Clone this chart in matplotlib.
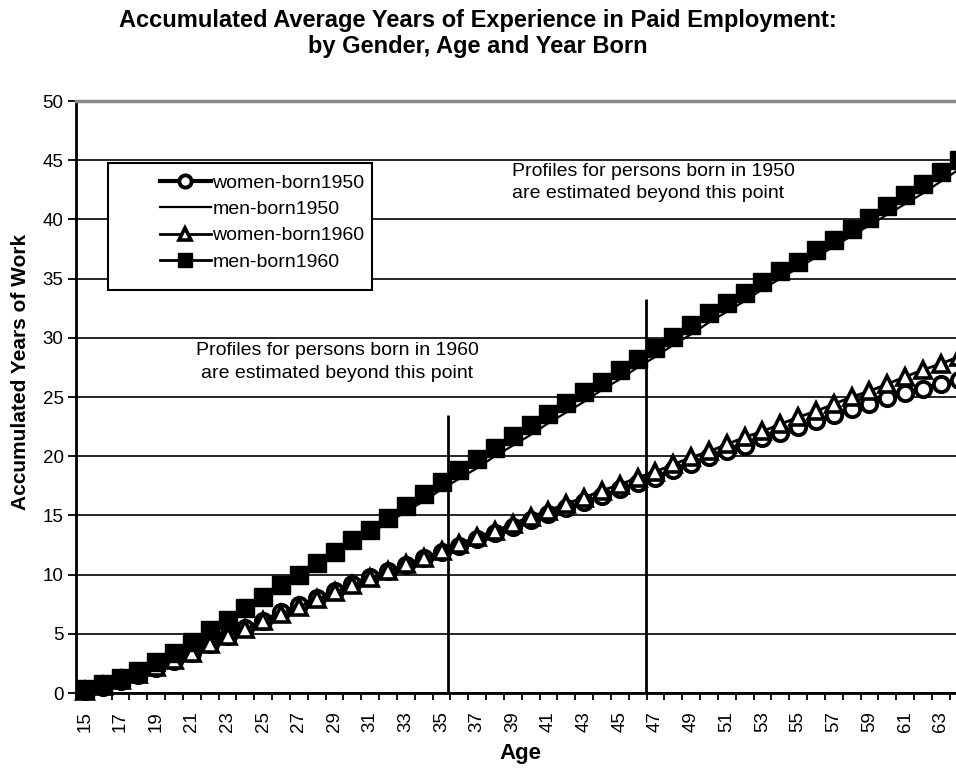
import matplotlib
matplotlib.use('Agg')
import matplotlib.pyplot as plt
from matplotlib.patches import Rectangle

plt.rcParams['font.family'] = ['Liberation Sans', 'DejaVu Sans']

# ---------------- data ----------------
ages = list(range(15, 65))

women_1950 = [0.2, 0.5, 1.0, 1.5, 2.1, 2.7, 3.4, 4.1, 4.8, 5.5,
              6.1, 6.8, 7.4, 8.0, 8.6, 9.2, 9.8, 10.3, 10.8, 11.4,
              11.9, 12.4, 13.0, 13.5, 14.0, 14.6, 15.1, 15.6, 16.1, 16.6,
              17.2, 17.7, 18.2, 18.8, 19.3, 19.9, 20.4, 20.9, 21.5, 22.0,
              22.5, 23.0, 23.5, 24.0, 24.4, 24.9, 25.3, 25.7, 26.1, 26.4]

men_1950 = [0.3, 0.8, 1.3, 1.9, 2.6, 3.4, 4.3, 5.2, 6.1, 7.1,
            8.0, 9.0, 9.9, 10.8, 11.7, 12.6, 13.5, 14.4, 15.3, 16.2,
            17.2, 18.1, 19.0, 20.0, 20.9, 21.8, 22.8, 23.7, 24.6, 25.6,
            26.5, 27.5, 28.4, 29.4, 30.3, 31.3, 32.2, 33.1, 34.1, 35.0,
            35.9, 36.8, 37.7, 38.6, 39.5, 40.4, 41.3, 42.2, 43.2, 44.2]

women_1960 = [0.2, 0.6, 1.1, 1.6, 2.2, 2.8, 3.4, 4.1, 4.8, 5.4,
              6.1, 6.7, 7.3, 7.9, 8.5, 9.1, 9.7, 10.3, 10.9, 11.4,
              12.0, 12.6, 13.2, 13.7, 14.3, 14.9, 15.4, 16.0, 16.5, 17.1,
              17.6, 18.2, 18.7, 19.3, 19.9, 20.4, 21.0, 21.6, 22.1, 22.7,
              23.3, 23.8, 24.4, 25.0, 25.5, 26.1, 26.7, 27.3, 27.8, 28.4]

men_1960 = [0.3, 0.8, 1.3, 1.9, 2.6, 3.4, 4.3, 5.3, 6.2, 7.2,
            8.1, 9.1, 10.0, 11.0, 11.9, 12.9, 13.8, 14.8, 15.8, 16.8,
            17.8, 18.8, 19.8, 20.7, 21.7, 22.6, 23.6, 24.5, 25.4, 26.3,
            27.3, 28.2, 29.1, 30.1, 31.1, 32.1, 32.9, 33.8, 34.7, 35.6,
            36.4, 37.4, 38.3, 39.2, 40.1, 41.1, 42.1, 43.0, 44.0, 45.0]

series_labels = ['women-born1950', 'men-born1950', 'women-born1960', 'men-born1960']
x_tick_labels = ['15', '17', '19', '21', '23', '25', '27', '29', '31', '33', '35',
                 '37', '39', '41', '43', '45', '47', '49', '51', '53', '55', '57',
                 '59', '61', '63']
y_ticks = [0, 5, 10, 15, 20, 25, 30, 35, 40, 45, 50]

# estimation cut-off markers (age, height)
cutoff_ages = [35.35, 46.45]
cutoff_tops = [23.5, 33.3]

title_lines = ['Accumulated Average Years of Experience in Paid Employment:',
               'by Gender, Age and Year Born']
note_1950 = 'Profiles for persons born in 1950\nare estimated beyond this point'
note_1960 = 'Profiles for persons born in 1960\nare estimated beyond this point'

# ---------------- figure ----------------
W, H = 956, 768
fig = plt.figure(figsize=(W / 100, H / 100), dpi=100)
fig.patch.set_facecolor('white')

ax_l, ax_r, ax_t, ax_b = 76, 967.5, 101, 693
ax = fig.add_axes([ax_l / W, (H - ax_b) / H, (ax_r - ax_l) / W, (ax_b - ax_t) / H])

ax.plot(ages, women_1950, color='black', lw=3.0, marker='o', ms=11,
        mfc='white', mec='black', mew=2.8, label=series_labels[0],
        zorder=3, clip_on=False)
ax.plot(ages, men_1950, color='black', lw=1.6, label=series_labels[1],
        zorder=3, clip_on=False)
ax.plot(ages, women_1960, color='black', lw=2.0, marker='^', ms=11.5,
        mfc='white', mec='black', mew=2.6, label=series_labels[2],
        zorder=3, clip_on=False)
ax.plot(ages, men_1960, color='black', lw=2.0, marker='s', ms=13,
        mfc='black', mec='black', label=series_labels[3],
        zorder=3, clip_on=False)

ax.vlines(cutoff_ages, 0, cutoff_tops, color='black', lw=2.0, zorder=4)

# axes styling
ax.set_xlim(ages[0] - 0.5, ages[-1] + 0.5)
ax.set_ylim(0, 50)
ax.set_yticks(y_ticks)
ax.set_xticks([int(t) for t in x_tick_labels])
ax.set_xticklabels(x_tick_labels)
ax.set_xticks([a - 0.5 for a in ages] + [ages[-1] + 0.5], minor=True)

ax.yaxis.grid(True, color='black', lw=1.2)
ax.set_axisbelow(True)

ax.tick_params(axis='y', which='major', direction='out', length=6, width=1.3,
               labelsize=13.5, pad=3)
ax.tick_params(axis='x', which='major', length=0, pad=13, labelsize=13.5,
               labelrotation=90)
ax.tick_params(axis='x', which='minor', direction='out', length=5, width=1.3)

for s in ['left', 'bottom']:
    ax.spines[s].set_linewidth(2)
    ax.spines[s].set_color('black')
ax.spines['top'].set_color('#8a8a8a')
ax.spines['top'].set_linewidth(2.5)
ax.spines['right'].set_visible(False)

# legend box
def ax_frac(px, py):
    return ((px - ax_l) / (ax_r - ax_l), (ax_b - py) / (ax_b - ax_t))

bx0, by0 = ax_frac(108, 290)
bx1, by1 = ax_frac(372, 163)
ax.add_patch(Rectangle((bx0, by0), bx1 - bx0, by1 - by0, transform=ax.transAxes,
                       facecolor='white', edgecolor='black', lw=1.5, zorder=5,
                       clip_on=False))
lx, ly = ax_frac(160, 222.5)
leg = ax.legend(loc='center left', bbox_to_anchor=(lx, ly), frameon=False,
                fontsize=14, handlelength=2.6, handletextpad=0.1,
                labelspacing=0.44, borderpad=0, borderaxespad=0,
                markerscale=0.8)
leg.set_zorder(6)

# notes
fig.text(512 / W, 1 - 182.5 / H, note_1950, ha='left', va='center',
         fontsize=14, linespacing=1.42)
fig.text(337 / W, 1 - 362 / H, note_1960, ha='center', va='center',
         fontsize=14, linespacing=1.42)

# titles and labels
fig.text(478 / W, 1 - 20 / H, title_lines[0], ha='center', va='center',
         fontsize=17, fontweight='bold')
fig.text(478 / W, 1 - 47 / H, title_lines[1], ha='center', va='center',
         fontsize=17, fontweight='bold')
fig.text(21 / W, 1 - 372 / H, 'Accumulated Years of Work', rotation=90,
         ha='center', va='center', fontsize=15, fontweight='bold')
fig.text(520 / W, 1 - 754 / H, 'Age', ha='center', va='center',
         fontsize=16, fontweight='bold')

fig.savefig('out.png', dpi=100)
